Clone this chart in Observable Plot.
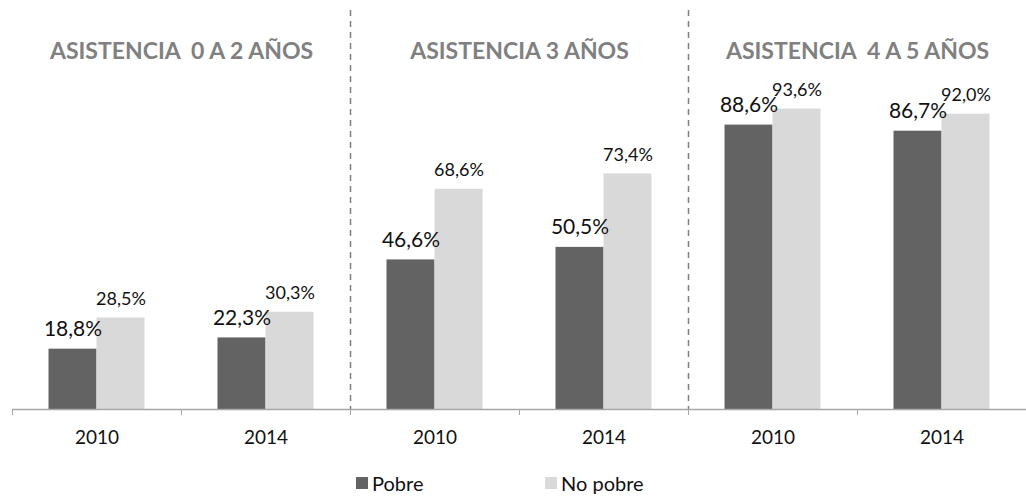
<!DOCTYPE html>
<html>
<head>
<meta charset="utf-8">
<script src="https://cdn.jsdelivr.net/npm/d3@7"></script>
<script src="https://cdn.jsdelivr.net/npm/@observablehq/plot@0.6"></script>
<style>
  body { margin: 0; background: #fff; font-family: Lato, sans-serif; }
  #wrap { position: relative; width: 1026px; }
  #legend { position: relative; height: 43px; width: 1026px; font-size: 20px; color: #111; }
  .item { position: absolute; top: 11px; display: flex; align-items: center; }
  .sw { width: 12px; height: 12px; margin-right: 4px; }
</style>
</head>
<body>
<div id="wrap"></div>
<script>
const panels = ["ASISTENCIA  0 A 2 AÑOS", "ASISTENCIA 3 AÑOS", "ASISTENCIA  4 A 5 AÑOS"];
const years = ["2010", "2014"];
const series = ["Pobre", "No pobre"];
const pobre = [18.8, 22.3, 46.6, 50.5, 88.6, 86.7];
const noPobre = [28.5, 30.3, 68.6, 73.4, 93.6, 92.0];
const colors = ["#636363", "#d9d9d9"];

const rows = [];
pobre.forEach((v, g) => rows.push({g, s: 0, serie: series[0], value: v}));
noPobre.forEach((v, g) => rows.push({g, s: 1, serie: series[1], value: v}));
const titles = panels.map((t, i) => ({t, c: i * 2 + 1}));
const fmt = v => v.toFixed(1).replace(".", ",") + "%";

const chart = Plot.plot({
  width: 1026,
  height: 460,
  marginLeft: 12,
  marginRight: 0,
  marginTop: 88,
  marginBottom: 51,
  style: {fontFamily: "Lato, sans-serif", background: "#fff"},
  x: {domain: [0, 6], axis: null, label: null},
  y: {domain: [0, 100], axis: null, label: null},
  color: {domain: series, range: colors},
  marks: [
    Plot.rect(rows, {
      x1: d => d.g + (d.s === 0 ? 0.216 : 0.5),
      x2: d => d.g + (d.s === 0 ? 0.5 : 0.784),
      y1: 0, y2: "value", fill: "serie"
    }),
    Plot.ruleX([2, 4], {stroke: "#7f7f7f", strokeWidth: 1.5, strokeDasharray: "6,5", insetTop: -78}),
    Plot.ruleY([0], {stroke: "#a6a6a6", strokeWidth: 1.3}),
    Plot.axisX(d3.range(7), {tickSize: 6, tickFormat: () => "", stroke: "#a6a6a6", label: null}),
    Plot.axisX(d3.range(6).map(i => i + 0.5), {
      tickSize: 0, tickPadding: 21, fontSize: 19, fill: "#111", label: null,
      tickFormat: d => years[Math.floor(d) % 2]
    }),
    Plot.text(rows.filter(d => d.s === 0), {
      x: d => d.g + 0.358, y: "value", text: d => fmt(d.value),
      fontSize: 21, fill: "#111", lineAnchor: "bottom", dy: -13
    }),
    Plot.text(rows.filter(d => d.s === 1), {
      x: d => d.g + 0.642, y: "value", text: d => fmt(d.value),
      fontSize: 18, fill: "#111", lineAnchor: "bottom", dy: -13
    }),
    Plot.text(titles, {
      x: "c", text: "t", frameAnchor: "top", dy: -46,
      fontSize: 23, fontWeight: "bold", fill: "#808080"
    })
  ]
});
document.getElementById("wrap").appendChild(chart);

const legend = document.createElement("div");
legend.id = "legend";
const lefts = [356, 545];
series.forEach((s, i) => {
  const it = document.createElement("div");
  it.className = "item";
  it.style.left = lefts[i] + "px";
  const sw = document.createElement("span");
  sw.className = "sw";
  sw.style.background = colors[i];
  const tx = document.createElement("span");
  tx.textContent = s;
  it.appendChild(sw); it.appendChild(tx);
  legend.appendChild(it);
});
document.getElementById("wrap").appendChild(legend);
</script>
</body>
</html>
